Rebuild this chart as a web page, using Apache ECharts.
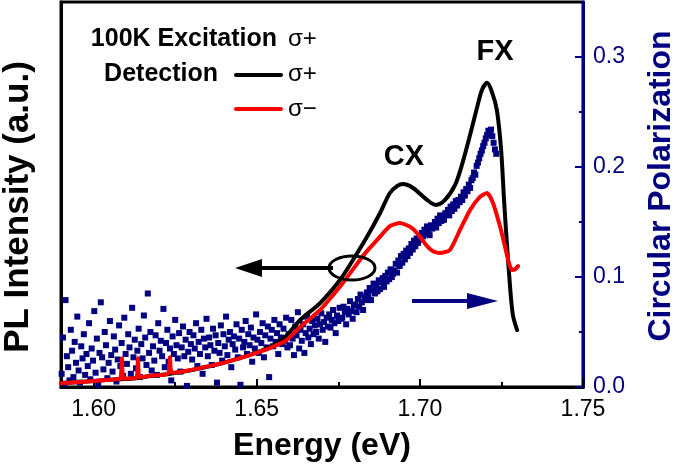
<!DOCTYPE html>
<html>
<head>
<meta charset="utf-8">
<script src="https://cdn.jsdelivr.net/npm/echarts@6/dist/echarts.min.js"></script>
<style>
html,body{margin:0;padding:0;background:#fff;}
#chart{width:675px;height:472px;}
</style>
</head>
<body>
<div id="chart"></div>
<script>
// ---- Data ----
const xTicks = [1.60, 1.65, 1.70, 1.75];
const xMinorTicks = [1.625, 1.675, 1.725];
const polTicks = [0.0, 0.1, 0.2, 0.3];
const polMinorTicks = [0.05, 0.15, 0.25];

// PL intensity, sigma+ detection (black), arbitrary units
const blackE = [1.5900,1.5960,1.6020,1.6080,1.6130,1.6180,1.6230,1.6290,1.6340,1.6390,
  1.6440,1.6490,1.6540,1.6587,1.6633,1.6694,1.6755,1.6795,1.6838,1.6878,
  1.6908,1.6930,1.6948,1.6979,1.7022,1.7049,1.7077,1.7108,1.7129,1.7154,
  1.7175,1.7190,1.7206,1.7221,1.7236,1.7249,1.7258,1.7267,1.7276,1.7285,1.7298];
const blackV = [0.010,0.013,0.017,0.020,0.023,0.029,0.034,0.042,0.051,0.061,
  0.073,0.087,0.104,0.130,0.174,0.218,0.278,0.330,0.390,0.452,
  0.504,0.522,0.527,0.517,0.486,0.473,0.486,0.525,0.577,0.655,
  0.725,0.771,0.790,0.766,0.719,0.616,0.486,0.369,0.265,0.187,0.148];

// PL intensity, sigma- detection (red)
const redE = [1.5900,1.5960,1.6020,1.6070,1.6082,1.6087,1.6092,1.6130,1.6136,1.6141,
  1.6180,1.6228,1.6234,1.6240,1.6290,1.6340,1.6390,1.6440,1.6490,1.6540,
  1.6587,1.6633,1.6694,1.6735,1.6764,1.6790,1.6816,1.6845,1.6869,1.6908,
  1.6939,1.6970,1.6991,1.7022,1.7042,1.7062,1.7092,1.7123,1.7154,1.7184,
  1.7206,1.7224,1.7246,1.7261,1.7273,1.7282,1.7292,1.7301];
const redV = [0.010,0.013,0.017,0.020,0.021,0.074,0.022,0.024,0.075,0.025,
  0.030,0.035,0.077,0.037,0.043,0.052,0.061,0.073,0.086,0.101,
  0.119,0.156,0.200,0.240,0.270,0.300,0.330,0.360,0.382,0.418,
  0.426,0.416,0.400,0.366,0.352,0.348,0.356,0.408,0.460,0.494,
  0.504,0.478,0.416,0.364,0.322,0.304,0.306,0.314];

// Circular polarization (navy squares)
const polE = [
  1.5902,1.5906,1.5910,1.5914,1.5918,1.5922,1.5926,1.5930,1.5934,1.5938,
  1.5942,1.5946,1.5950,1.5954,1.5958,1.5962,1.5966,1.5970,1.5974,1.5978,
  1.5982,1.5986,1.5990,1.5994,1.5998,1.6002,1.6006,1.6010,1.6014,1.6018,
  1.6022,1.6026,1.6030,1.6034,1.6038,1.6042,1.6046,1.6050,1.6054,1.6058,
  1.6062,1.6066,1.6070,1.6074,1.6078,1.6082,1.6086,1.6090,1.6094,1.6098,
  1.6102,1.6106,1.6110,1.6114,1.6118,1.6122,1.6126,1.6130,1.6134,1.6138,
  1.6142,1.6146,1.6150,1.6154,1.6158,1.6162,1.6166,1.6170,1.6174,1.6178,
  1.6182,1.6186,1.6190,1.6194,1.6198,1.6202,1.6206,1.6210,1.6214,1.6218,
  1.6222,1.6226,1.6230,1.6234,1.6238,1.6242,1.6246,1.6250,1.6254,1.6258,
  1.6262,1.6266,1.6270,1.6274,1.6278,1.6282,1.6286,1.6290,1.6294,1.6298,
  1.6302,1.6306,1.6310,1.6314,1.6318,1.6322,1.6326,1.6330,1.6334,1.6338,
  1.6342,1.6346,1.6350,1.6354,1.6358,1.6362,1.6366,1.6370,1.6374,1.6378,
  1.6382,1.6386,1.6390,1.6394,1.6398,1.6402,1.6406,1.6410,1.6414,1.6418,
  1.6422,1.6426,1.6430,1.6434,1.6438,1.6442,1.6446,1.6450,1.6454,1.6458,
  1.6462,1.6466,1.6470,1.6474,1.6478,1.6482,1.6486,1.6490,1.6494,1.6498,
  1.6502,1.6506,1.6510,1.6514,1.6518,1.6522,1.6526,1.6530,1.6534,1.6538,
  1.6542,1.6546,1.6550,1.6554,1.6558,1.6562,1.6566,1.6570,1.6574,1.6578,
  1.6582,1.6586,1.6590,1.6594,1.6598,
  1.6602,1.6606,1.6610,1.6614,1.6618,1.6622,1.6626,1.6630,1.6634,1.6638,
  1.6642,1.6646,1.6650,1.6654,1.6658,1.6662,1.6666,1.6670,1.6674,1.6678,
  1.6682,1.6686,1.6690,1.6694,1.6698,1.6702,1.6706,1.6710,1.6714,1.6718,
  1.6722,1.6726,1.6730,1.6734,1.6738,1.6742,1.6746,1.6750,1.6754,1.6758,
  1.6762,1.6766,1.6770,1.6774,1.6778,1.6782,1.6786,1.6790,1.6794,1.6798,
  1.6802,1.6806,1.6810,1.6814,1.6818,1.6822,1.6826,1.6830,1.6834,1.6838,
  1.6842,1.6846,1.6850,1.6854,1.6858,1.6862,1.6866,1.6870,1.6874,1.6878,
  1.6882,1.6886,1.6890,1.6894,1.6898,1.6902,1.6906,1.6910,1.6914,1.6918,
  1.6922,1.6926,1.6930,1.6934,1.6938,1.6942,1.6946,1.6950,1.6954,1.6958,
  1.6962,1.6966,1.6970,1.6974,1.6978,1.6982,1.6986,1.6990,1.6994,1.6998,
  1.7002,1.7006,1.7010,1.7014,1.7018,1.7022,1.7026,1.7030,1.7034,1.7038,
  1.7042,1.7046,1.7050,1.7054,1.7058,1.7062,1.7066,1.7070,1.7074,1.7078,
  1.7082,1.7086,1.7090,1.7094,1.7098,1.7102,1.7106,1.7110,1.7114,1.7118,
  1.7122,1.7126,1.7130,1.7134,1.7138,1.7142,1.7146,1.7150,1.7154,1.7158,
  1.7162,1.7166,1.7170,1.7174,1.7178,1.7182,1.7186,1.7190,1.7194,1.7198,
  1.7202,1.7206,1.7210,1.7214,1.7218,1.7222,1.7226,1.7230,1.7234];
const polV = [
  0.012,0.045,0.003,0.079,0.028,0.018,0.006,0.052,0.033,0.009,
  0.041,0.022,0.064,0.015,0.004,0.037,0.026,0.048,0.011,0.030,
  0.019,0.058,0.007,0.035,0.024,0.069,0.013,0.044,0.002,0.031,
  0.077,0.027,0.016,0.050,0.038,0.008,0.022,0.060,0.029,0.014,
  0.046,0.034,0.005,0.025,0.056,0.019,0.040,0.010,0.063,0.030,
  0.021,0.048,0.036,0.012,0.072,0.027,0.043,0.017,0.033,0.053,
  0.009,0.039,0.026,0.065,0.045,0.020,0.085,0.031,0.050,0.015,
  0.037,0.024,0.047,0.011,0.058,0.033,0.042,0.028,0.071,0.018,
  0.040,0.052,0.023,0.035,0.006,0.046,0.030,0.061,0.038,0.026,
  0.049,0.014,0.036,0.055,0.028,0.043,0.001,0.032,0.050,0.039,
  0.025,0.047,0.035,0.058,0.019,0.041,0.030,0.052,0.012,0.044,
  0.036,0.062,0.028,0.045,0.038,0.020,0.053,0.033,0.047,0.004,
  0.040,0.031,0.056,0.024,0.048,0.037,0.064,0.029,0.043,0.050,
  0.018,0.039,0.046,0.034,0.057,0.027,0.044,0.002,0.052,0.036,
  0.041,0.060,0.030,0.048,0.038,0.054,0.023,0.045,0.035,0.066,
  0.043,0.031,0.050,0.040,0.058,0.027,0.047,0.036,0.055,0.009,
  0.044,0.052,0.037,0.061,0.041,0.049,0.030,0.057,0.045,0.039,
  0.053,0.042,0.063,0.036,0.048,
  0.038,0.061,0.044,0.029,0.055,0.047,0.068,0.035,0.052,0.042,
  0.057,0.031,0.049,0.064,0.045,0.053,0.039,0.060,0.048,0.056,
  0.050,0.062,0.044,0.057,0.067,0.052,0.059,0.041,0.063,0.055,
  0.066,0.054,0.061,0.070,0.058,0.049,0.065,0.060,0.072,0.062,
  0.063,0.073,0.068,0.057,0.071,0.066,0.078,0.069,0.062,0.074,
  0.075,0.068,0.080,0.073,0.084,0.077,0.070,0.082,0.079,0.086,
  0.084,0.090,0.079,0.088,0.094,0.085,0.092,0.087,0.097,0.089,
  0.095,0.099,0.091,0.101,0.096,0.104,0.098,0.107,0.100,0.103,
  0.106,0.112,0.104,0.115,0.110,0.119,0.113,0.121,0.116,0.124,
  0.119,0.126,0.122,0.130,0.125,0.133,0.128,0.135,0.131,0.137,
  0.134,0.140,0.137,0.143,0.139,0.146,0.141,0.138,0.147,0.144,
  0.146,0.150,0.145,0.153,0.149,0.156,0.151,0.155,0.152,0.158,
  0.157,0.161,0.156,0.164,0.160,0.166,0.162,0.169,0.165,0.170,
  0.168,0.173,0.170,0.177,0.174,0.180,0.178,0.184,0.181,0.188,
  0.190,0.195,0.193,0.201,0.204,0.208,0.212,0.215,0.219,0.222,
  0.226,0.229,0.233,0.231,0.234,0.228,0.222,0.216,0.212];

// ---- Chart ----
const NAVY = '#000080';
const FONT = '"Liberation Sans", Arial, Helvetica, sans-serif';
const pairs = (xs, ys) => xs.map((x, i) => [x, ys[i]]);

const chart = echarts.init(document.getElementById('chart'), null, {renderer: 'canvas'});

const option = {
  animation: false,
  backgroundColor: '#fff',
  grid: {left: 61, right: 92, top: 2, bottom: 85, show: true, borderColor: '#000', borderWidth: 3, backgroundColor: 'transparent'},
  xAxis: [
    {
      type: 'value', position: 'bottom', min: 1.59, max: 1.75,
      axisLine: {show: true, lineStyle: {color: '#000', width: 3}},
      axisTick: {show: true, inside: true, length: 8, lineStyle: {color: '#000', width: 2}, customValues: xTicks},
      axisLabel: {show: true, customValues: xTicks, margin: 11, color: '#000', fontSize: 23, fontFamily: FONT,
        formatter: v => v.toFixed(2)},
      splitLine: {show: false}
    },
    {
      type: 'value', position: 'bottom', min: 1.59, max: 1.75,
      axisLine: {show: false},
      axisTick: {show: true, inside: true, length: 5, lineStyle: {color: '#000', width: 2}, customValues: xMinorTicks},
      axisLabel: {show: false},
      splitLine: {show: false}
    }
  ],
  yAxis: [
    {
      type: 'value', position: 'left', min: 0, max: 1,
      axisLine: {show: true, lineStyle: {color: '#000', width: 3}},
      axisTick: {show: false}, axisLabel: {show: false}, splitLine: {show: false}
    },
    {
      type: 'value', position: 'right', min: 0, max: 0.35,
      axisLine: {show: true, lineStyle: {color: NAVY, width: 3}},
      axisTick: {show: true, inside: true, length: 8, lineStyle: {color: NAVY, width: 2}, customValues: polTicks},
      axisLabel: {show: true, customValues: polTicks, margin: 10, color: NAVY, fontSize: 23, fontFamily: FONT,
        formatter: v => v.toFixed(1)},
      splitLine: {show: false}
    },
    {
      type: 'value', position: 'right', min: 0, max: 0.35,
      axisLine: {show: false},
      axisTick: {show: true, inside: true, length: 4, lineStyle: {color: NAVY, width: 2}, customValues: polMinorTicks},
      axisLabel: {show: false}, splitLine: {show: false}
    }
  ],
  series: [
    {
      name: 'Circular Polarization', type: 'scatter', xAxisIndex: 0, yAxisIndex: 1,
      symbol: 'rect', symbolSize: 6, itemStyle: {color: NAVY, opacity: 1},
      data: pairs(polE, polV), z: 2
    },
    {
      name: 'σ+', type: 'line', xAxisIndex: 0, yAxisIndex: 0,
      data: pairs(blackE, blackV), showSymbol: false, symbol: 'none',
      smooth: 0.3, lineStyle: {color: '#000', width: 4, cap: 'round', join: 'round'}, z: 3
    },
    {
      name: 'σ−', type: 'line', xAxisIndex: 0, yAxisIndex: 0,
      data: pairs(redE, redV), showSymbol: false, symbol: 'none',
      smooth: 0.2, lineStyle: {color: '#ff0000', width: 4, cap: 'round', join: 'round'}, z: 4
    }
  ],
  graphic: [
    // axis titles
    {type: 'text', x: 18, y: 207, rotation: Math.PI / 2, z: 100,
      style: {text: 'PL Intensity (a.u.)', fill: '#000', font: 'bold 35px ' + FONT, align: 'center', verticalAlign: 'middle'}},
    {type: 'text', x: 661, y: 186, rotation: Math.PI / 2, z: 100,
      style: {text: 'Circular Polarization', fill: NAVY, font: 'bold 32px ' + FONT, align: 'center', verticalAlign: 'middle'}},
    {type: 'text', x: 322, y: 446, z: 100,
      style: {text: 'Energy (eV)', fill: '#000', font: 'bold 32px ' + FONT, align: 'center', verticalAlign: 'middle'}},
    // legend block
    {type: 'text', x: 277, y: 39, z: 100,
      style: {text: '100K Excitation', fill: '#000', font: 'bold 25px ' + FONT, align: 'right', verticalAlign: 'middle'}},
    {type: 'text', x: 288, y: 39, z: 100,
      style: {text: 'σ+', fill: '#000', font: '24px ' + FONT, align: 'left', verticalAlign: 'middle'}},
    {type: 'text', x: 218, y: 74, z: 100,
      style: {text: 'Detection', fill: '#000', font: 'bold 25px ' + FONT, align: 'right', verticalAlign: 'middle'}},
    {type: 'line', z: 100, shape: {x1: 236, y1: 75, x2: 281, y2: 75}, style: {stroke: '#000', lineWidth: 4, lineCap: 'round'}},
    {type: 'text', x: 288, y: 74, z: 100,
      style: {text: 'σ+', fill: '#000', font: '24px ' + FONT, align: 'left', verticalAlign: 'middle'}},
    {type: 'line', z: 100, shape: {x1: 236, y1: 109, x2: 281, y2: 109}, style: {stroke: '#ff0000', lineWidth: 4, lineCap: 'round'}},
    {type: 'text', x: 288, y: 109, z: 100,
      style: {text: 'σ−', fill: '#000', font: '24px ' + FONT, align: 'left', verticalAlign: 'middle'}},
    // peak labels
    {type: 'text', x: 404, y: 157, z: 100,
      style: {text: 'CX', fill: '#000', font: 'bold 29px ' + FONT, align: 'center', verticalAlign: 'middle'}},
    {type: 'text', x: 495, y: 52, z: 100,
      style: {text: 'FX', fill: '#000', font: 'bold 29px ' + FONT, align: 'center', verticalAlign: 'middle'}},
    // black arrow (to left axis) with ellipse
    {type: 'line', z: 100, shape: {x1: 252, y1: 268, x2: 333, y2: 268}, style: {stroke: '#000', lineWidth: 4}},
    {type: 'polygon', z: 100, shape: {points: [[235, 268], [262, 259], [262, 277]]}, style: {fill: '#000'}},
    {type: 'ellipse', z: 100, shape: {cx: 352, cy: 268, rx: 23, ry: 12}, style: {fill: 'none', stroke: '#000', lineWidth: 3}},
    // navy arrow (to right axis)
    {type: 'line', z: 100, shape: {x1: 412, y1: 301, x2: 480, y2: 301}, style: {stroke: NAVY, lineWidth: 4}},
    {type: 'polygon', z: 100, shape: {points: [[498, 301], [467, 293], [467, 309]]}, style: {fill: NAVY}}
  ]
};

chart.setOption(option);
</script>
</body>
</html>
